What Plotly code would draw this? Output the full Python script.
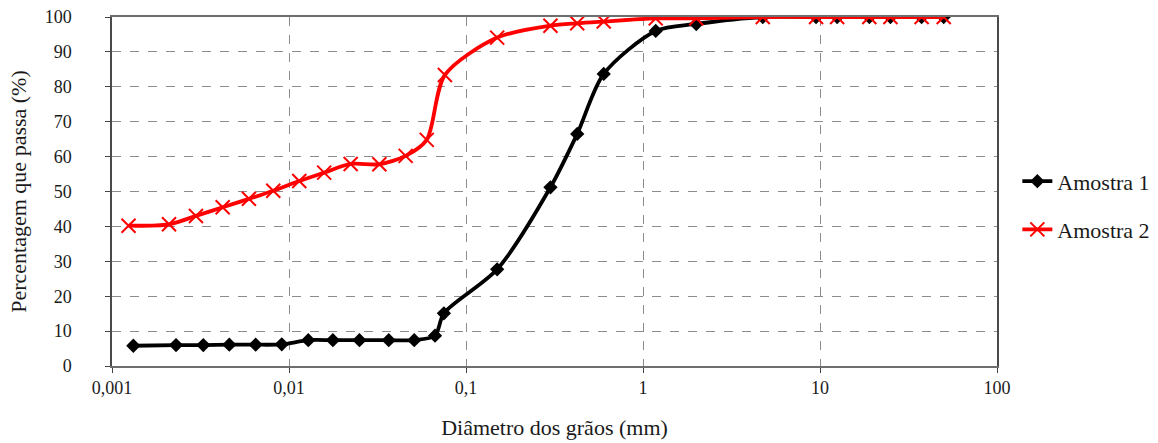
import plotly.graph_objects as go

# Amostra 1
d1 = [0.00132, 0.0023, 0.00328, 0.0046, 0.00648, 0.0091, 0.01285, 0.0177, 0.025, 0.0366,
      0.051, 0.0668, 0.075, 0.15, 0.3, 0.425, 0.6, 1.18, 2.0, 4.75, 9.5, 12.5, 19, 25, 37.5, 50]
p1 = [5.8, 6.0, 6.0, 6.1, 6.1, 6.2, 7.4, 7.4, 7.4, 7.4,
      7.4, 8.7, 15.1, 27.7, 51.2, 66.5, 83.7, 96.0, 98.0, 100, 100, 100, 100, 100, 100, 100]

# Amostra 2
d2 = [0.00124, 0.0021, 0.00298, 0.00422, 0.00594, 0.00815, 0.01143, 0.0158, 0.0223, 0.0324,
      0.0456, 0.060, 0.076, 0.15, 0.3, 0.425, 0.6, 1.18, 2.0, 4.75, 9.5, 12.5, 19, 25, 37.5, 50]
p2 = [40.2, 40.6, 43.0, 45.5, 47.9, 50.2, 53.0, 55.4, 57.9, 57.8,
      60.2, 64.8, 83.4, 94.1, 97.5, 98.2, 98.7, 99.6, 99.6, 100, 100, 100, 100, 100, 100, 100]

x_tickvals = [0.001, 0.01, 0.1, 1, 10, 100]
x_ticktext = ["0,001", "0,01", "0,1", "1", "10", "100"]
y_tickvals = list(range(0, 101, 10))

FONT = "Liberation Serif"
TXT = "#1a1a1a"

fig = go.Figure()
fig.add_trace(go.Scatter(
    x=d1, y=p1, name="Amostra 1", mode="lines+markers", showlegend=True,
    line=dict(color="black", width=3.8, shape="spline", smoothing=0.8),
    marker=dict(symbol="diamond", size=11, color="black"),
    legend="legend",
))
fig.add_trace(go.Scatter(
    x=d2, y=p2, name="Amostra 2", mode="lines+markers", showlegend=True,
    line=dict(color="#ff0000", width=3.8, shape="spline", smoothing=0.8),
    marker=dict(symbol="x-thin", size=14, line=dict(color="#ff0000", width=2)),
    legend="legend2",
))

fig.update_layout(
    width=1158, height=443,
    showlegend=True,
    margin=dict(l=112, r=161, t=17, b=77, autoexpand=False),
    paper_bgcolor="white", plot_bgcolor="white",
    font=dict(family=FONT, size=18, color=TXT),
    legend=dict(x=1.023, y=0.529, xanchor="left", yanchor="middle",
                font=dict(family=FONT, size=22, color=TXT), bgcolor="rgba(0,0,0,0)"),
    legend2=dict(x=1.023, y=0.391, xanchor="left", yanchor="middle",
                 font=dict(family=FONT, size=22, color=TXT), bgcolor="rgba(0,0,0,0)"),
    xaxis=dict(
        type="log", range=[-3, 2], automargin=False,
        tickvals=x_tickvals, ticktext=x_ticktext,
        showgrid=True, gridcolor="#8c8c8c", griddash="dash", gridwidth=1,
        showline=True, linecolor="#6e6e6e", linewidth=1.5, mirror=True,
        ticks="outside", ticklen=5, tickcolor="#444444",
        tickfont=dict(family=FONT, size=18, color=TXT),
        title=dict(text="Diâmetro dos grãos (mm)", font=dict(family=FONT, size=22, color=TXT), standoff=22),
        zeroline=False,
    ),
    yaxis=dict(
        range=[0, 100], tickvals=y_tickvals, automargin=False,
        showgrid=True, gridcolor="#8c8c8c", griddash="dash", gridwidth=1,
        showline=True, linecolor="#4a4a4a", linewidth=1.5, mirror=True,
        ticks="outside", ticklen=5, tickcolor="#444444", ticklabelstandoff=30,
        tickfont=dict(family=FONT, size=18, color=TXT),
        title=dict(text="Percentagem que passa (%)", font=dict(family=FONT, size=22, color=TXT), standoff=12),
        zeroline=False,
    ),
)

fig.write_html("out.html")
